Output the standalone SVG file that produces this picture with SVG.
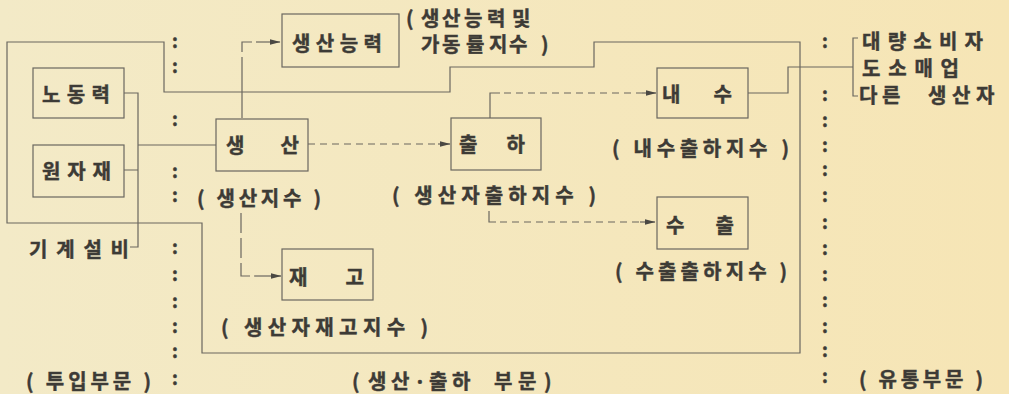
<svg xmlns="http://www.w3.org/2000/svg" width="1009" height="394" viewBox="0 0 1009 394">
<defs>
<linearGradient id="bg" x1="0" y1="0" x2="1" y2="0">
<stop offset="0" stop-color="#f3eac7"/>
<stop offset="1" stop-color="#f6e5b5"/>
</linearGradient>
<marker id="arr" markerWidth="11" markerHeight="7" refX="10" refY="3.5" orient="auto" markerUnits="userSpaceOnUse">
<path d="M0,0.8 L10.5,3.5 L0,6.2 Z" fill="#4a4843"/>
</marker>
</defs>
<style>
text { font-family: "Noto Sans CJK KR", "Noto Sans", sans-serif; font-size: 20px; fill: #3d3b36; stroke: #3d3b36; stroke-width: 0.45; dominant-baseline: central; font-weight: bold; }
.box { fill: none; stroke: #6a675f; stroke-width: 1.2; }
.ln { fill: none; stroke: #6a675f; stroke-width: 1.2; }
.dash { stroke-dasharray: 7 5; }
.col { font-size: 18px; text-anchor: middle; }
</style>
<rect x="0" y="0" width="1009" height="394" fill="url(#bg)"/>

<g id="connectors">
<path class="ln" d="M7,42 H164 V92 H450 V67 H594 V42 H800 V353 H202 V223 H7 Z"/>
<path class="ln" d="M124,93 H138 V247 H130 M124,170 H138 M138,145 H216"/>
<path class="ln" d="M242,118 V57 M242,52 V42 H252"/>
<path class="ln" d="M256,42 H280" marker-end="url(#arr)"/>
<path class="ln" d="M241,213 V233 M241,238 V258 M241,263 V276 H250"/>
<path class="ln" d="M254,276 H281" marker-end="url(#arr)"/>
<path class="ln dash" d="M308,144 H438"/>
<path class="ln" d="M438,144 H450" marker-end="url(#arr)"/>
<path class="ln" d="M490,118 V93 H500"/>
<path class="ln dash" d="M504,93 H642"/>
<path class="ln" d="M642,93 H656" marker-end="url(#arr)"/>
<path class="ln" d="M489,211 V222 H496"/>
<path class="ln dash" d="M500,222 H640"/>
<path class="ln" d="M640,222 H655" marker-end="url(#arr)"/>
<path class="ln" d="M748,93 H788 V67 H853 M858,38 H853 V96 H858"/>
</g>

<g id="separators">
<text class="col" x="175" y="40">:</text>
<text class="col" x="175" y="65">:</text>
<text class="col" x="175" y="118">:</text>
<text class="col" x="175" y="170">:</text>
<text class="col" x="175" y="194">:</text>
<text class="col" x="175" y="246">:</text>
<text class="col" x="175" y="273">:</text>
<text class="col" x="175" y="300">:</text>
<text class="col" x="175" y="325">:</text>
<text class="col" x="175" y="350">:</text>
<text class="col" x="175" y="377">:</text>
<text class="col" x="825" y="40">:</text>
<text class="col" x="825" y="93">:</text>
<text class="col" x="825" y="119">:</text>
<text class="col" x="825" y="144">:</text>
<text class="col" x="825" y="168">:</text>
<text class="col" x="825" y="194">:</text>
<text class="col" x="825" y="221">:</text>
<text class="col" x="825" y="247">:</text>
<text class="col" x="825" y="273">:</text>
<text class="col" x="825" y="299">:</text>
<text class="col" x="825" y="325">:</text>
<text class="col" x="825" y="349">:</text>
<text class="col" x="825" y="375">:</text>
</g>

<g id="node-labor">
<rect class="box" x="33" y="68" width="91" height="50"/>
<text x="42" y="93" textLength="68" lengthAdjust="spacing">노동력</text>
</g>
<g id="node-material">
<rect class="box" x="33" y="145" width="91" height="52"/>
<text x="42" y="170" textLength="69" lengthAdjust="spacing">원자재</text>
</g>
<g id="node-machinery">
<text x="29" y="248" textLength="100" lengthAdjust="spacing">기계설비</text>
</g>
<g id="node-production">
<rect class="box" x="216" y="119" width="92" height="52"/>
<text x="226" y="144" textLength="73" lengthAdjust="spacing">생 산</text>
<text x="197" y="197" textLength="124" lengthAdjust="spacing">( 생산지수 )</text>
</g>
<g id="node-capacity">
<rect class="box" x="282" y="14" width="117" height="53"/>
<text x="292" y="42" textLength="90" lengthAdjust="spacing">생산능력</text>
<text><tspan y="17" x="406 413 421 442 464 487 512">( 생산능력및</tspan><tspan y="43" x="421 442 466 489 509 541">가동률지수)</tspan></text>
</g>
<g id="node-inventory">
<rect class="box" x="282" y="249" width="91" height="51"/>
<text x="289" y="276" textLength="75" lengthAdjust="spacing">재 고</text>
<text x="221" y="326" textLength="207" lengthAdjust="spacing">( 생산자재고지수 )</text>
</g>
<g id="node-shipment">
<rect class="box" x="451" y="118" width="90" height="52"/>
<text x="459" y="143" textLength="66" lengthAdjust="spacing">출 하</text>
<text x="392" y="194" textLength="204" lengthAdjust="spacing">( 생산자출하지수 )</text>
</g>
<g id="node-domestic">
<rect class="box" x="657" y="68" width="91" height="50"/>
<text x="662" y="93" textLength="70" lengthAdjust="spacing">내 수</text>
<text x="612" y="147" textLength="177" lengthAdjust="spacing">( 내수출하지수 )</text>
</g>
<g id="node-export">
<rect class="box" x="657" y="197" width="91" height="52"/>
<text x="666" y="224" textLength="68" lengthAdjust="spacing">수 출</text>
<text x="615" y="270" textLength="172" lengthAdjust="spacing">( 수출출하지수 )</text>
</g>
<g id="node-distribution">
<text x="862" y="40" textLength="121" lengthAdjust="spacing">대량소비자</text>
<text x="862" y="67" textLength="97" lengthAdjust="spacing">도소매업</text>
<text y="94" x="859 882 905 928 952 976">다른 생산자</text>
</g>
<g id="sections">
<text x="26" y="380" textLength="125" lengthAdjust="spacing">( 투입부문 )</text>
<text y="380" x="352 360 368 391 412 414 424 429 452 476 494 518 544">( 생산 · 출하 부문)</text>
<text x="859" y="378" textLength="124" lengthAdjust="spacing">( 유통부문 )</text>
</g>
</svg>
